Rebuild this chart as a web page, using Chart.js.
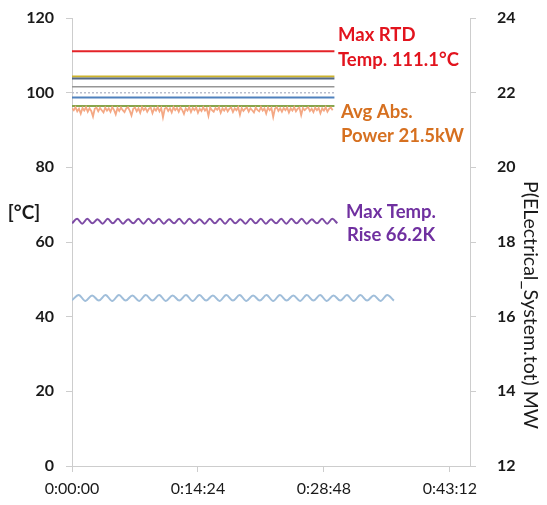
<!DOCTYPE html>
<html>
<head>
<meta charset="utf-8">
<script src="https://cdn.jsdelivr.net/npm/chart.js@4"></script>
<style>
  html, body { margin: 0; padding: 0; background: #fff; }
  #wrap { width: 547px; height: 505px; position: relative; }
</style>
</head>
<body>
<div id="wrap"><canvas id="c" width="547" height="505"></canvas></div>
<script>
// Time axis (seconds) and tick positions
const timeTicks = [0, 864, 1728, 2592];
const flatTimes = [0, 1800];

// Winding / RTD temperatures, constant over the run [°C]
const maxRtdTemp = [111.1, 111.1];
const tempGold = [104.3, 104.3];
const tempSlate = [103.8, 103.8];
const tempGray = [101.6, 101.6];
const tempDotted = [100.0, 100.0];
const tempBlue = [98.7, 98.7];
const tempGreen = [96.4, 96.4];

// Temperature rise, sampled every 35 s [K]
const riseStep = 35;
const tempRise = [65.0,66.2,64.9,66.2,65.0,66.1,64.9,66.2,65.0,66.2,64.9,66.1,65.0,66.2,64.9,66.2,65.0,66.2,
  64.9,66.1,65.0,66.2,64.9,66.2,65.0,66.1,64.9,66.2,65.0,66.2,64.9,66.2,65.0,66.1,64.9,66.2,65.0,66.2,
  64.9,66.1,65.0,66.2,64.9,66.2,65.0,66.2,64.9,66.1,65.0,66.2,64.9,66.2,65.0];

// Coolant temperature, sampled every 46 s [°C]
const coolStep = 46;
const coolantTemp = [44.4,45.8,44.2,45.7,44.3,45.8,44.2,45.8,44.3,45.7,44.2,45.8,44.3,45.8,44.2,45.7,44.3,
  45.8,44.2,45.8,44.3,45.7,44.2,45.8,44.3,45.8,44.2,45.7,44.3,45.8,44.2,45.8,44.3,45.7,44.2,45.8,44.3,
  45.8,44.2,45.7,44.3,45.8,44.2,45.8,44.3,45.7,44.2,45.8,44.3];

// Electrical system power, sampled every 12 s [MW]
const powerStep = 12;
const powerMW = [
  21.58,21.53,21.61,21.50,21.57,21.44,21.59,21.52,21.61,21.49,21.58,21.51,21.36,21.57,21.60,
  21.50,21.59,21.53,21.47,21.60,21.52,21.58,21.49,21.61,21.54,21.42,21.59,21.51,21.60,21.53,
  21.48,21.58,21.61,21.52,21.39,21.57,21.60,21.50,21.58,21.46,21.61,21.53,21.59,21.49,21.57,
  21.60,21.45,21.58,21.52,21.61,21.50,21.59,21.34,21.57,21.60,21.51,21.58,21.47,21.61,21.53,
  21.59,21.49,21.60,21.54,21.43,21.58,21.52,21.61,21.48,21.59,21.53,21.60,21.46,21.57,21.51,
  21.61,21.52,21.58,21.38,21.60,21.53,21.49,21.59,21.54,21.61,21.46,21.58,21.52,21.60,21.50,
  21.57,21.60,21.48,21.58,21.53,21.61,21.41,21.59,21.51,21.57,21.60,21.49,21.58,21.53,21.47,
  21.60,21.54,21.50,21.61,21.52,21.58,21.44,21.60,21.53,21.59,21.35,21.57,21.61,21.51,21.58,
  21.49,21.59,21.53,21.60,21.47,21.58,21.52,21.61,21.50,21.57,21.60,21.40,21.59,21.53,21.58,
  21.61,21.51,21.57,21.48,21.60,21.53,21.59,21.45,21.58,21.52,21.61,21.49,21.57,21.60,21.53];

const FONT = 'Lato, "Open Sans", sans-serif';

function pairs(times, values) { return values.map((v, i) => ({ x: times[i], y: v })); }
function sampled(step, values) { return values.map((v, i) => ({ x: i * step, y: v })); }

function hms(sec) {
  const h = Math.floor(sec / 3600);
  const m = Math.floor((sec % 3600) / 60);
  const s = Math.round(sec % 60);
  return h + ':' + String(m).padStart(2, '0') + ':' + String(s).padStart(2, '0');
}

function flat(values, color, width, dash) {
  return {
    data: pairs(flatTimes, values), yAxisID: 'y', borderColor: color,
    borderWidth: width, borderDash: dash || [], pointRadius: 0, tension: 0
  };
}

const datasets = [
  flat(tempDotted, 'rgb(185,190,205)', 1.5, [2, 2]),
  flat(tempGray, 'rgb(150,150,150)', 1.5),
  flat(tempBlue, 'rgb(80,130,190)', 2),
  flat(tempSlate, 'rgb(85,105,135)', 2),
  flat(tempGold, 'rgb(205,180,45)', 2),
  {
    data: sampled(powerStep, powerMW), yAxisID: 'y2', borderColor: 'rgb(244,168,132)',
    borderWidth: 1.8, pointRadius: 0, tension: 0
  },
  flat(tempGreen, 'rgb(135,165,75)', 2),
  flat(maxRtdTemp, 'rgb(228,35,40)', 2),
  {
    data: sampled(riseStep, tempRise), yAxisID: 'y', borderColor: 'rgb(125,75,165)',
    borderWidth: 2, pointRadius: 0, cubicInterpolationMode: 'monotone'
  },
  {
    data: sampled(coolStep, coolantTemp), yAxisID: 'y', borderColor: 'rgb(160,190,218)',
    borderWidth: 2, pointRadius: 0, cubicInterpolationMode: 'monotone'
  }
];

const axisGray = 'rgb(205,205,205)';

// Free-standing annotations and axis titles
const textPlugin = {
  id: 'notes',
  afterDraw(chart) {
    const ctx = chart.ctx;
    ctx.save();
    ctx.textBaseline = 'middle';

    ctx.font = 'bold 18.5px ' + FONT;
    ctx.fillStyle = 'rgb(226,20,30)';
    ctx.textAlign = 'left';
    ctx.fillText('Max RTD', 338, 35);
    ctx.fillText('Temp. 111.1°C', 338, 60);

    ctx.fillStyle = 'rgb(214,112,32)';
    ctx.fillText('Avg Abs.', 341, 112);
    ctx.fillText('Power 21.5kW', 341, 136);

    ctx.fillStyle = 'rgb(112,48,160)';
    ctx.textAlign = 'center';
    ctx.fillText('Max Temp.', 391, 212);
    ctx.fillText('Rise 66.2K', 391, 235);

    ctx.fillStyle = '#1a1a1a';
    ctx.font = 'bold 19px ' + FONT;
    ctx.fillText('[°C]', 24, 213);

    ctx.font = '19.5px ' + FONT;
    ctx.translate(530, 305);
    ctx.rotate(Math.PI / 2);
    ctx.fillText('P(ELectrical_System.tot) MW', 0, 0);
    ctx.restore();
  }
};

// Keep the vertical scales from reserving extra room above and below the plot
function fixVertical(width) {
  return function (scale) {
    scale.width = width;
    scale.paddingTop = 0;
    scale.paddingBottom = 0;
  };
}

new Chart(document.getElementById('c'), {
  type: 'line',
  data: { datasets },
  plugins: [textPlugin],
  options: {
    responsive: false,
    animation: false,
    layout: { padding: { top: 18, left: 0, right: 0, bottom: 0 } },
    plugins: { legend: { display: false }, tooltip: { enabled: false } },
    scales: {
      x: {
        type: 'linear', min: 0, max: 2730,
        afterBuildTicks(scale) { scale.ticks = timeTicks.map(v => ({ value: v })); },
        afterFit(scale) { scale.height = 39; },
        ticks: {
          callback: v => hms(v), color: '#1a1a1a', padding: 7, maxRotation: 0,
          font: { family: FONT, size: 16 }
        },
        grid: { drawOnChartArea: false, tickLength: 6, color: axisGray },
        border: { color: axisGray, width: 1 }
      },
      y: {
        position: 'left', min: 0, max: 120,
        afterFit: fixVertical(72),
        ticks: { stepSize: 20, color: '#1a1a1a', padding: 12, font: { family: FONT, size: 16, weight: 'bold' } },
        grid: { drawOnChartArea: false, tickLength: 6, color: axisGray },
        border: { color: axisGray, width: 1 }
      },
      y2: {
        position: 'right', min: 12, max: 24,
        afterFit: fixVertical(77),
        ticks: { stepSize: 2, color: '#1a1a1a', padding: 21, font: { family: FONT, size: 16, weight: 'bold' } },
        grid: { drawOnChartArea: false, tickLength: 6, color: axisGray },
        border: { color: axisGray, width: 1 }
      }
    }
  }
});
</script>
</body>
</html>
